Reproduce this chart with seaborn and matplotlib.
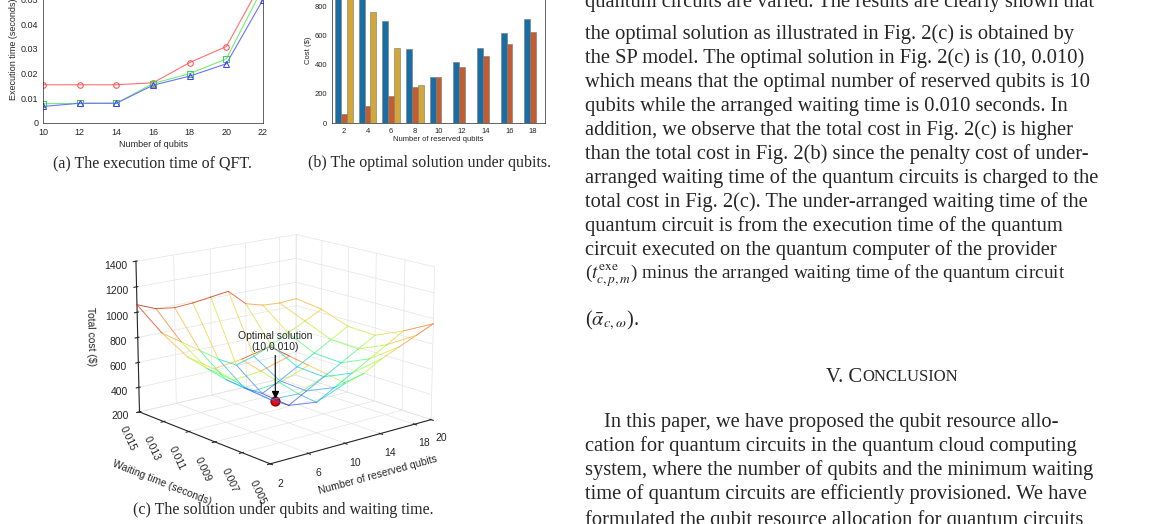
import numpy as np
import pandas as pd
import matplotlib
matplotlib.use("Agg")
import matplotlib.pyplot as plt
import seaborn as sns

# (a) execution time of QFT
qft_qubits = [10, 12, 14, 16, 18, 20, 22]
time_red = [0.0155, 0.0155, 0.0155, 0.0163, 0.0245, 0.031, 0.058]
time_green = [0.0078, 0.0080, 0.0080, 0.0160, 0.0200, 0.026, 0.055]
time_blue = [0.0067, 0.0080, 0.0080, 0.0153, 0.0190, 0.024, 0.050]

# (b) optimal solution under qubits
reserved = [2, 4, 6, 8, 10, 12, 14, 16, 18]
cost_blue = [1100, 1000, 700, 510, 320, 420, 520, 620, 720]
cost_orange = [60, 120, 185, 245, 320, 385, 465, 545, 625]
cost_yellow = [950, 765, 515, 265, 0, 0, 0, 0, 0]

# (c) total cost surface
grid_qubits = [2, 4, 6, 8, 10, 12, 14, 16, 18, 20]
grid_wait = [0.005, 0.007, 0.009, 0.011, 0.013, 0.015]
total_cost = np.array([
    [1060, 960, 860, 760, 660, 700, 780, 840, 900, 960],
    [900, 780, 660, 540, 440, 520, 600, 680, 760, 840],
    [760, 640, 520, 420, 340, 420, 500, 580, 660, 740],
    [780, 660, 540, 440, 360, 430, 510, 590, 670, 750],
    [900, 800, 700, 600, 520, 560, 620, 690, 760, 830],
    [1060, 1000, 980, 990, 1010, 1030, 900, 860, 850, 860],
])

sns.set_style("white")
plt.rcParams['font.family'] = ['Liberation Sans', 'DejaVu Sans']
plt.rcParams['mathtext.fontset'] = 'stix'

fig = plt.figure(figsize=(11.57, 5.24), dpi=100)
W, H = 1157, 524

def box(x0, y0, x1, y1):
    return [x0 / W, 1 - y1 / H, (x1 - x0) / W, (y1 - y0) / H]

# ---- (a)
ax1 = fig.add_axes(box(43, -25, 263, 123))
df_a = pd.DataFrame({"q": qft_qubits * 3,
                     "t": time_red + time_green + time_blue,
                     "s": ["r"] * 7 + ["g"] * 7 + ["b"] * 7})
sns.lineplot(data=df_a, x="q", y="t", hue="s", style="s",
             palette={"r": "#ff7070", "g": "#70f070", "b": "#7070ff"},
             markers={"r": "o", "g": "s", "b": "^"}, dashes=False,
             markerfacecolor="none", markersize=4, linewidth=0.8,
             legend=False, ax=ax1)
for ln, ec in zip(ax1.lines, ["#ff5050", "#40d040", "#4040ff"]):
    ln.set_markeredgecolor(ec)
ax1.set_xlim(10, 22)
ax1.set_ylim(0, 0.06)
ax1.set_xticks(qft_qubits)
ax1.set_yticks([0, 0.01, 0.02, 0.03, 0.04, 0.05])
ax1.set_yticklabels(["0", "0.01", "0.02", "0.03", "0.04", "0.05"])
ax1.tick_params(labelsize=6.5, length=2, direction="in")
ax1.set_xlabel("Number of qubits", fontsize=6.5, labelpad=2)
ax1.set_ylabel("Execution time (seconds)", fontsize=6.5, labelpad=2)
for s in ax1.spines.values():
    s.set_linewidth(0.5)

# ---- (b)
ax2 = fig.add_axes(box(332, -22, 545, 123))
df_b = pd.DataFrame({"q": reserved * 3,
                     "c": cost_blue + cost_orange + cost_yellow,
                     "s": ["b"] * 9 + ["o"] * 9 + ["y"] * 9})
sns.barplot(data=df_b, x="q", y="c", hue="s",
            palette={"b": "#0072BD", "o": "#D95319", "y": "#EDB120"},
            width=0.75, edgecolor="#777777", linewidth=0.4,
            legend=False, ax=ax2)
ax2.set_ylim(0, 1000)
ax2.set_yticks([0, 200, 400, 600, 800])
ax2.tick_params(labelsize=5.5, length=2, direction="in")
ax2.set_xlabel("Number of reserved qubits", fontsize=5.5, labelpad=1)
ax2.set_ylabel("Cost ($)", fontsize=5.5, labelpad=2)
for s in ax2.spines.values():
    s.set_linewidth(0.5)

serif = ['Liberation Serif', 'DejaVu Serif']
fig.text(152 / W, 1 - 163 / H, "(a) The execution time of QFT.", ha="center",
         va="center", fontsize=11.5, family=serif)
fig.text(430 / W, 1 - 163 / H, "(b) The optimal solution under qubits.", ha="center",
         va="center", fontsize=11.5, family=serif)
fig.text(283 / W, 1 - 510 / H, "(c) The solution under qubits and waiting time.",
         ha="center", va="center", fontsize=11.5, family=serif)

# ---- (c)
ax3 = fig.add_axes(box(20, 190, 540, 500), projection="3d")
Q, T = np.meshgrid(grid_qubits, grid_wait)
norm = plt.Normalize(300, 1100)
cmap = plt.get_cmap("turbo")
for i in range(len(grid_wait)):
    for j in range(len(grid_qubits)):
        if j + 1 < len(grid_qubits):
            z = total_cost[i, j:j + 2]
            ax3.plot(Q[i, j:j + 2], T[i, j:j + 2], z, color=cmap(norm(z.mean())),
                     lw=0.7, alpha=0.75)
        if i + 1 < len(grid_wait):
            z = total_cost[i:i + 2, j]
            ax3.plot(Q[i:i + 2, j], T[i:i + 2, j], z, color=cmap(norm(z.mean())),
                     lw=0.7, alpha=0.75)
ax3.scatter([10], [0.010], [340], color="red", edgecolor="darkred", s=40,
            depthshade=False, zorder=10)
ax3.plot([10, 10], [0.010, 0.010], [700, 390], color="black", lw=0.8)
ax3.scatter([10], [0.010], [395], marker="v", color="black", s=18, depthshade=False)
ax3.text(10, 0.010, 740, "Optimal solution\n(10,0.010)", ha="center", fontsize=7.5)
ax3.set_xlim(2, 20)
ax3.set_ylim(0.005, 0.015)
ax3.set_zlim(200, 1400)
ax3.set_xticks([2, 6, 10, 14, 18, 20])
ax3.set_yticks([0.005, 0.007, 0.009, 0.011, 0.013, 0.015])
ax3.set_yticklabels(["0.005", "0.007", "0.009", "0.011", "0.013", "0.015"], rotation=-65)
ax3.set_zticks([200, 400, 600, 800, 1000, 1200, 1400])
ax3.tick_params(labelsize=7.5, pad=0)
ax3.set_xlabel("Number of reserved qubits", fontsize=7.5, labelpad=-2)
ax3.set_ylabel("Waiting time (seconds)", fontsize=7.5, labelpad=6)
ax3.set_zlabel("Total cost ($)", fontsize=7.5, labelpad=-2)
for a in (ax3.xaxis, ax3.yaxis, ax3.zaxis):
    a.set_pane_color((1, 1, 1, 0))
    a._axinfo["grid"]["color"] = "#e4e4e4"
    a._axinfo["grid"]["linewidth"] = 0.5
ax3.view_init(elev=15, azim=-130)
ax3.set_box_aspect(None, zoom=1.05)

# ---- right column text
fs = 14.8
lines = [
    (3, "quantum circuits are varied. The results are clearly shown that"),
    (34, "the optimal solution as illustrated in Fig. 2(c) is obtained by"),
    (58, "the SP model. The optimal solution in Fig. 2(c) is (10, 0.010)"),
    (82, "which means that the optimal number of reserved qubits is 10"),
    (106, "qubits while the arranged waiting time is 0.010 seconds. In"),
    (130, "addition, we observe that the total cost in Fig. 2(c) is higher"),
    (154, "than the total cost in Fig. 2(b) since the penalty cost of under-"),
    (178, "arranged waiting time of the quantum circuits is charged to the"),
    (202, "total cost in Fig. 2(c). The under-arranged waiting time of the"),
    (226, "quantum circuit is from the execution time of the quantum"),
    (250, "circuit executed on the quantum computer of the provider"),
    (276, r"($t^{\mathrm{exe}}_{c,p,m}$) minus the arranged waiting time of the quantum circuit"),
    (320, r"($\bar{\alpha}_{c,\omega}$)."),
    (446, "cation for quantum circuits in the quantum cloud computing"),
    (470, "system, where the number of qubits and the minimum waiting"),
    (494, "time of quantum circuits are efficiently provisioned. We have"),
    (520, "formulated the qubit resource allocation for quantum circuits"),
]
for y, s in lines:
    size = 13.8 if y == 276 else fs
    fig.text(585 / W, 1 - y / H, s, ha="left", va="center", fontsize=size, family=serif)
fig.text(604 / W, 1 - 422 / H, "In this paper, we have proposed the qubit resource allo-",
         ha="left", va="center", fontsize=fs, family=serif)
fig.text(862 / W, 1 - 377 / H, "V. C", ha="right", va="center", fontsize=fs, family=serif)
fig.text(862 / W, 1 - 377 / H, "ONCLUSION", ha="left", va="center", fontsize=12, family=serif)

fig.savefig("out.png", dpi=100)
